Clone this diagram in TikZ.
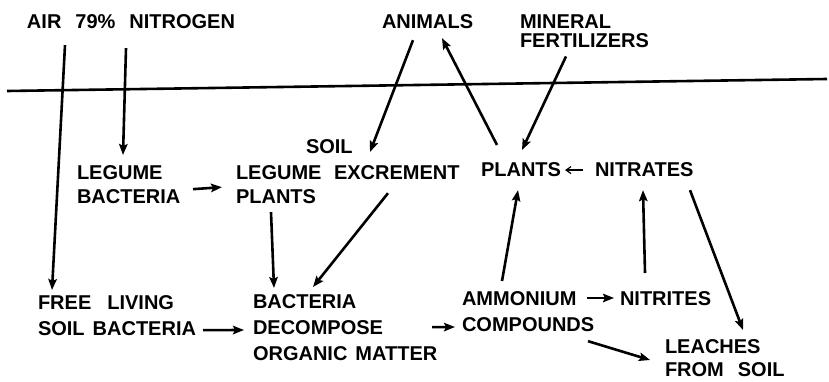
\documentclass[tikz,border=0pt]{standalone}
\usepackage{fontspec}
\setmainfont{Liberation Sans}
\usepackage{tikz}
\usetikzlibrary{arrows.meta, calc}
\newcommand{\lblfont}[1]{\fontsize{20}{#1}\selectfont\bfseries\spaceskip=8pt\relax}
\newcommand{\widegap}{\spaceskip=14pt\relax}

\begin{document}
\begin{tikzpicture}[
  x=1pt, y=-1pt,
  lbl/.style={anchor=north west, inner sep=0pt, outer sep=0pt, align=left, font=\lblfont{26}},
  arr/.style={line width=2.6pt, -{Stealth[length=11pt, width=8.5pt, inset=2pt]}},
  thinarr/.style={line width=1.2pt, -{Straight Barb[length=5pt, width=7pt]}}
]
  \useasboundingbox (0,0) rectangle (829,382);

  % above the ground
  \node[lbl, font=\lblfont{26}\widegap] (air) at (27,15) {AIR 79\% NITROGEN};
  \node[lbl] (animals) at (382,15) {ANIMALS};
  \node[lbl, font=\lblfont{18.5}] (mineral) at (520,15) {MINERAL\\FERTILIZERS};
  \draw[line width=2.6pt] (7,91) -- (827,79);

  % in the soil
  \node[lbl, font=\lblfont{24}] (legbact) at (77,166) {LEGUME\\BACTERIA};
  \node[lbl, font=\lblfont{24}] (legplants) at (236,166) {LEGUME\\PLANTS};
  \node[lbl] (soil) at (306,140) {SOIL};
  \node[lbl] (excrement) at (334,166) {EXCREMENT};
  \node[lbl] (plants) at (481,163) {PLANTS};
  \node[lbl] (nitrates) at (595,163) {NITRATES};
  \node[lbl] (freeliving) at (38,296) {FREE\hspace{8pt} LIVING\\SOIL BACTERIA};
  \node[lbl] (bactdecomp) at (253,295) {BACTERIA\\DECOMPOSE\\ORGANIC MATTER};
  \node[lbl] (ammonium) at (462,292) {AMMONIUM\\COMPOUNDS};
  \node[lbl] (nitrites) at (620,292) {NITRITES};
  \node[lbl, font=\lblfont{23}\widegap] (leaches) at (665,340) {LEACHES\\FROM SOIL};

  % connectors
  \draw[arr] ($(air.south west)+(38,16)$) -- ($(freeliving.north west)+(14,-6)$);
  \draw[arr] ($(air.south west)+(99,19)$) -- ($(legbact.north west)+(46,-11)$);
  \draw[arr] ($(legbact.south west)+(116,-15)$) -- ($(legplants.south west)+(-14,-17)$);
  \draw[arr] ($(animals.south west)+(31,11)$) -- ($(excrement.north west)+(36,-14)$);
  \draw[arr] ($(plants.north west)+(16,-18)$) -- ($(animals.south west)+(60,9)$);
  \draw[arr] ($(mineral.south west)+(46,9)$) -- ($(plants.north west)+(41,-13)$);
  \draw[thinarr, shorten <=12pt, shorten >=4pt] (nitrates) -- (plants);
  \draw[arr] ($(legplants.south west)+(35,8)$) -- ($(bactdecomp.north west)+(21,-7)$);
  \draw[arr] ($(excrement.south west)+(54,13)$) -- ($(bactdecomp.north west)+(60,-8)$);
  \draw[arr] ($(freeliving.south west)+(165,-6)$) -- ($(bactdecomp.north west)+(-9,35)$);
  \draw[arr] ($(bactdecomp.south west)+(179,-34)$) -- ($(ammonium.north west)+(-7,35)$);
  \draw[arr] ($(ammonium.north west)+(40,-11)$) -- ($(plants.south west)+(37,13)$);
  \draw[arr] ($(ammonium.north west)+(125,6)$) -- ($(nitrites.north west)+(-6,6)$);
  \draw[arr] ($(nitrites.north west)+(25,-19)$) -- ($(nitrates.south west)+(48,13)$);
  \draw[arr] ($(nitrates.south west)+(95,13)$) -- ($(leaches.north west)+(78,-10)$);
  \draw[arr] ($(ammonium.south west)+(126,9)$) -- ($(leaches.north west)+(-15,20)$);
\end{tikzpicture}
\end{document}
